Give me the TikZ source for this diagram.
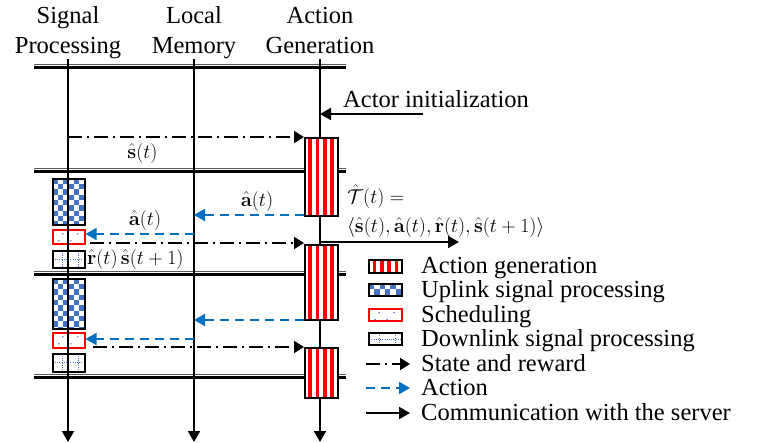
\RequirePackage{fix-cm}
\documentclass[tikz,border=0pt]{standalone}
\usepackage[no-math]{fontspec}
\setmainfont{Liberation Serif}
\usetikzlibrary{arrows.meta,calc}
\definecolor{cblue}{HTML}{4472C4}
\definecolor{ablue}{HTML}{0070C0}
\definecolor{sred}{HTML}{FF0000}
\begin{document}
\begin{tikzpicture}[x=1pt,y=-1pt,
  txt/.style={font=\fontsize{24.5}{28}\selectfont, inner sep=0pt, anchor=base},
  mth/.style={font=\fontsize{20}{24}\selectfont, inner sep=0pt},
  tline/.style={line width=2pt, -{Triangle[length=11pt,width=12pt]}},
  thindl/.style={line width=1.2pt, black!65},
  thickdl/.style={line width=2.6pt},
  sr/.style={line width=2pt, dash pattern=on 14pt off 5pt on 2pt off 5pt, -{Triangle[length=10pt,width=12pt]}},
  act/.style={ablue, line width=2pt, dash pattern=on 9pt off 6pt, -{Triangle[length=11pt,width=12pt]}},
  comm/.style={line width=2pt, -{Triangle[length=11pt,width=12pt]}},
  agbox/.style={draw, line width=1.6pt, fill=white, inner sep=0pt, anchor=north west, minimum width=33pt,
    path picture={
      \foreach \i in {1,3,5,7}
        \fill[sred] ($(path picture bounding box.north west)+(\i*3.667,0)$) rectangle ($(path picture bounding box.south west)+(\i*3.667+3.667,0)$);
    }},
  ulbox/.style={draw, line width=1.6pt, fill=white, inner sep=0pt, anchor=north west, minimum width=32pt,
    path picture={
      \foreach \i in {0,...,5}
        \foreach \j in {0,...,10} {
          \pgfmathtruncatemacro\mm{mod(\i+\j,2)}
          \ifnum\mm=0
            \fill[cblue] ($(path picture bounding box.north west)+(\i*5.333,\j*5.333)$) rectangle ++(5.333,5.333);
          \fi
        }
    }},
  schbox/.style={draw=sred, line width=1.6pt, fill=white, inner sep=0pt, anchor=north west, minimum width=32pt,
    path picture={
      \foreach \dx/\dy in {10/4,25/4,6/11,18/11}
        \fill[cblue] ($(path picture bounding box.north west)+(\dx,\dy)$) circle (0.8pt);
    }},
  dlbox/.style={draw, line width=1.6pt, fill=white, inner sep=0pt, anchor=north west, minimum width=32pt,
    path picture={
      \draw[cblue, line width=0.7pt, dash pattern=on 0.8pt off 1.4pt] ($(path picture bounding box.north west)+(10,0)$) -- ($(path picture bounding box.south west)+(10,0)$);
      \draw[cblue, line width=0.7pt, dash pattern=on 0.8pt off 1.4pt] ($(path picture bounding box.north west)+(26,0)$) -- ($(path picture bounding box.south west)+(26,0)$);
      \draw[cblue, line width=0.7pt, dash pattern=on 0.8pt off 1.4pt] (path picture bounding box.west) -- (path picture bounding box.east);
    }}
]
\useasboundingbox (0,0) rectangle (766,442);

% headings
\node[txt] (h1a) at (68,23) {Signal};
\node[txt] (h1b) at (68,53) {Processing};
\node[txt] (h2a) at (194,23) {Local};
\node[txt] (h2b) at (194,53) {Memory};
\node[txt] (h3a) at (320,23) {Action};
\node[txt] (h3b) at (320,53) {Generation};

% separator double lines
\foreach \yy in {64.3,168.3,271.3,374.3} {
  \draw[thindl] (34,\yy) -- (346,\yy);
  \draw[thickdl] (34,\yy+3) -- (346,\yy+3);
}

% timelines (2 and 3 below boxes)
\coordinate (t2a) at (194,59);
\coordinate (t2b) at (194,442);
\coordinate (t3a) at (320,59);
\coordinate (t3b) at (320,442);
\draw[tline] (t2a) -- (t2b);
\draw[tline] (t3a) -- (t3b);

% action generation boxes
\node[agbox, minimum height=78pt] (ag1) at (304,137) {};
\node[agbox, minimum height=75pt] (ag2) at (304,244) {};
\node[agbox, minimum height=50pt] (ag3) at (304,347) {};

% signal processing boxes
\node[ulbox, minimum height=46pt] (ul1) at (52,178) {};
\node[schbox, minimum height=14pt] (sc1) at (52,229) {};
\node[dlbox, minimum height=17pt] (dl1) at (52,250) {};
\node[ulbox, minimum height=50pt] (ul2) at (52,278) {};
\node[schbox, minimum height=15pt] (sc2) at (52,332) {};
\node[dlbox, minimum height=18pt] (dl2) at (52,353) {};

% timeline 1 on top of its boxes
\coordinate (t1a) at (68,59);
\coordinate (t1b) at (68,442);
\draw[tline] (t1a) -- (t1b);

% actor initialization
\node[txt, anchor=base west] (ai) at (343,107) {Actor initialization};
\coordinate (ai0) at (423,114);
\coordinate (ai1) at (320,114);
\draw[comm] (ai0) -- (ai1);

% first round
\coordinate (p1) at (68,137);
\draw[sr] (p1) -- (p1 -| ag1.west);
\node[mth] (l1) at (142.5,153) {$\hat{\mathbf{s}}(t)$};

\coordinate (m1) at (194,215);
\draw[act] (m1 -| ag1.west) -- (m1);
\node[mth] (l2) at (257,201) {$\hat{\mathbf{a}}(t)$};

\coordinate (m2) at (194,234);
\draw[act] (m2) -- (m2 -| sc1.east);
\node[mth] (l3) at (145,220) {$\hat{\mathbf{a}}(t)$};

\coordinate (r1) at (90,243);
\draw[sr] (r1) -- (r1 -| ag2.west);
\node[mth, anchor=west] (l4) at (87,259) {$\hat{\mathbf{r}}(t)\,\hat{\mathbf{s}}(t+1)$};

\coordinate (c0) at (320,242);
\coordinate (c1) at (459,242);
\draw[comm] (c0) -- (c1);
\node[mth, anchor=west] (l5) at (347,197) {$\hat{\mathcal{T}}(t) =$};
\node[mth, anchor=west] (l6) at (347,227) {$\langle\hat{\mathbf{s}}(t),\hat{\mathbf{a}}(t),\hat{\mathbf{r}}(t),\hat{\mathbf{s}}(t+1)\rangle$};

% second round
\coordinate (m3) at (194,320);
\draw[act] (m3 -| ag2.west) -- (m3);
\coordinate (m4) at (194,339);
\draw[act] (m4) -- (m4 -| sc2.east);
\coordinate (r2) at (93,347);
\draw[sr] (r2) -- (r2 -| ag3.west);

% legend
\node[agbox, line width=2.2pt, minimum height=13pt] (g1) at (368,258.5) {};
\node[ulbox, line width=2.2pt, minimum height=12pt, minimum width=33pt] (g2) at (368,283) {};
\node[schbox, line width=2.2pt, minimum height=12pt, minimum width=33pt] (g3) at (368,307.5) {};
\node[dlbox, line width=2.2pt, minimum height=12pt, minimum width=33pt] (g4) at (368,332) {};
\coordinate (g5a) at (366,364);
\coordinate (g5b) at (410,364);
\draw[sr] (g5a) -- (g5b);
\coordinate (g6a) at (366,388);
\coordinate (g6b) at (410,388);
\draw[act] (g6a) -- (g6b);
\coordinate (g7a) at (366,413);
\coordinate (g7b) at (410,413);
\draw[comm] (g7a) -- (g7b);

\node[txt, anchor=base west] (e1) at (421,273) {Action generation};
\node[txt, anchor=base west] (e2) at (421,297.5) {Uplink signal processing};
\node[txt, anchor=base west] (e3) at (421,322) {Scheduling};
\node[txt, anchor=base west] (e4) at (421,346.5) {Downlink signal processing};
\node[txt, anchor=base west] (e5) at (421,371) {State and reward};
\node[txt, anchor=base west] (e6) at (421,395.5) {Action};
\node[txt, anchor=base west] (e7) at (421,420) {Communication with the server};
\end{tikzpicture}
\end{document}
